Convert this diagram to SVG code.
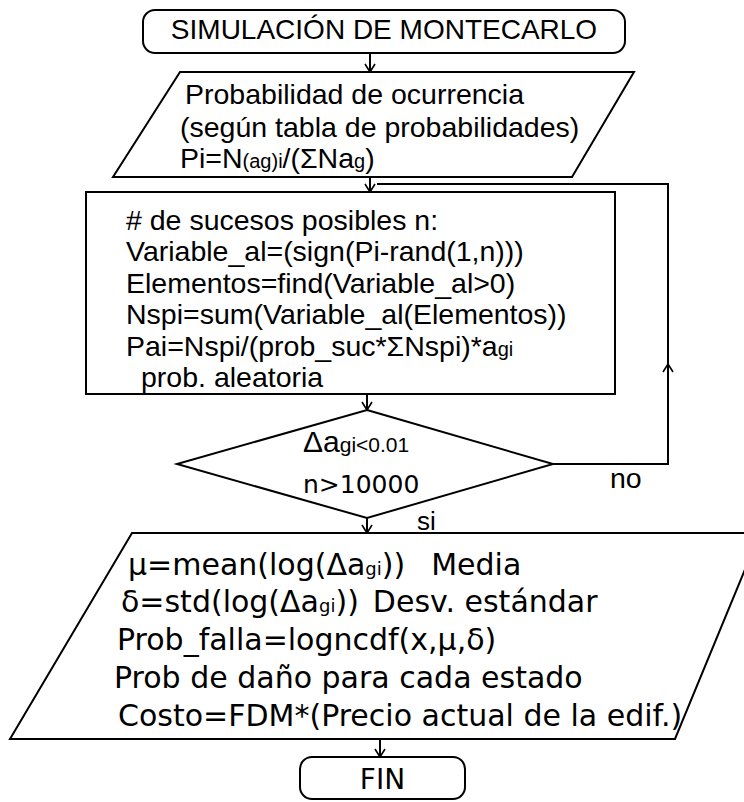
<svg xmlns="http://www.w3.org/2000/svg" width="744" height="802" viewBox="0 0 744 802">
<style>
.sh{fill:#fff;stroke:#000;stroke-width:2}
.ln{fill:none;stroke:#000;stroke-width:2}
.t{font-family:"Liberation Sans",Arial,sans-serif;font-size:28.5px;fill:#000}
.c{font-family:"DejaVu Sans","Liberation Sans",sans-serif;font-size:30px;fill:#000}
.s{font-size:20px}
</style>
<defs>
<marker id="ah" viewBox="-10 -7 12 14" markerWidth="12" markerHeight="14" refX="0" refY="0" orient="auto" markerUnits="userSpaceOnUse">
<path d="M-8,-5 L0,0 L-8,5" fill="none" stroke="#000" stroke-width="1.6"/>
</marker>
</defs>
<rect width="744" height="802" fill="#fff"/>
<g id="connectors">
<path class="ln" d="M370,53 V72" marker-end="url(#ah)"/>
<path class="ln" d="M370,177 V192" marker-end="url(#ah)"/>
<path class="ln" d="M367,394 V410" marker-end="url(#ah)"/>
<path class="ln" d="M367,518 V533" marker-end="url(#ah)"/>
<path class="ln" d="M380,739 V757" marker-end="url(#ah)"/>
<path class="ln" d="M553,464 H668 V364" marker-end="url(#ah)"/>
<path class="ln" d="M668,364 V184 H377"/>
<text class="t" x="610" y="488" font-size="28">no</text>
<text class="t" x="417" y="530" style="font-size:26px">si</text>
</g>
<g id="inicio">
<rect class="sh" x="143" y="10" width="482" height="43" rx="12"/>
<text class="t" x="384" y="39" text-anchor="middle" style="font-size:28px">SIMULACIÓN DE MONTECARLO</text>
</g>
<g id="probabilidad">
<polygon class="sh" points="180,72 634,72 572,177 113,177"/>
<text class="t" x="185" y="104">Probabilidad de ocurrencia</text>
<text class="t" x="180" y="137">(según tabla de probabilidades)</text>
<text class="t" x="180" y="168">Pi=N<tspan class="s">(ag)i</tspan>/(ΣNa<tspan class="s">g</tspan>)</text>
</g>
<g id="proceso">
<rect class="sh" x="86" y="192" width="529" height="202"/>
<text class="t" x="126" y="230"># de sucesos posibles n:</text>
<text class="t" x="126" y="261">Variable_al=(sign(Pi-rand(1,n)))</text>
<text class="t" x="126" y="293">Elementos=find(Variable_al&gt;0)</text>
<text class="t" x="126" y="324">Nspi=sum(Variable_al(Elementos))</text>
<text class="t" x="126" y="356">Pai=Nspi/(prob_suc*ΣNspi)*a<tspan class="s">gi</tspan></text>
<text class="t" x="141" y="387">prob. aleatoria</text>
</g>
<g id="decision">
<polygon class="sh" points="367,410 553,464 367,518 177,464"/>
<text class="t" x="303" y="452" style="font-size:30px">Δa<tspan style="font-size:21px">gi&lt;0.01</tspan></text>
<text class="c" x="303" y="493" style="font-size:25px">n&gt;10000</text>
</g>
<g id="resultados">
<polygon class="sh" points="132,533 760,533 675,739 10,739"/>
<text class="c" x="128" y="575">μ=mean(log(Δa<tspan style="font-size:18px">gi</tspan>))<tspan dx="26">Media</tspan></text>
<text class="c" x="121" y="612">δ=std(log(Δa<tspan style="font-size:18px">gi</tspan>))<tspan dx="14">Desv. estándar</tspan></text>
<text class="c" x="117" y="650">Prob_falla=logncdf(x,μ,δ)</text>
<text class="c" x="114" y="688">Prob de daño para cada estado</text>
<text class="c" x="118" y="726">Costo=FDM*(Precio actual de la edif.)</text>
</g>
<g id="fin">
<rect class="sh" x="300" y="757" width="165" height="42" rx="12"/>
<text class="c" x="382.5" y="789" text-anchor="middle" style="font-size:28px">FIN</text>
</g>
</svg>
